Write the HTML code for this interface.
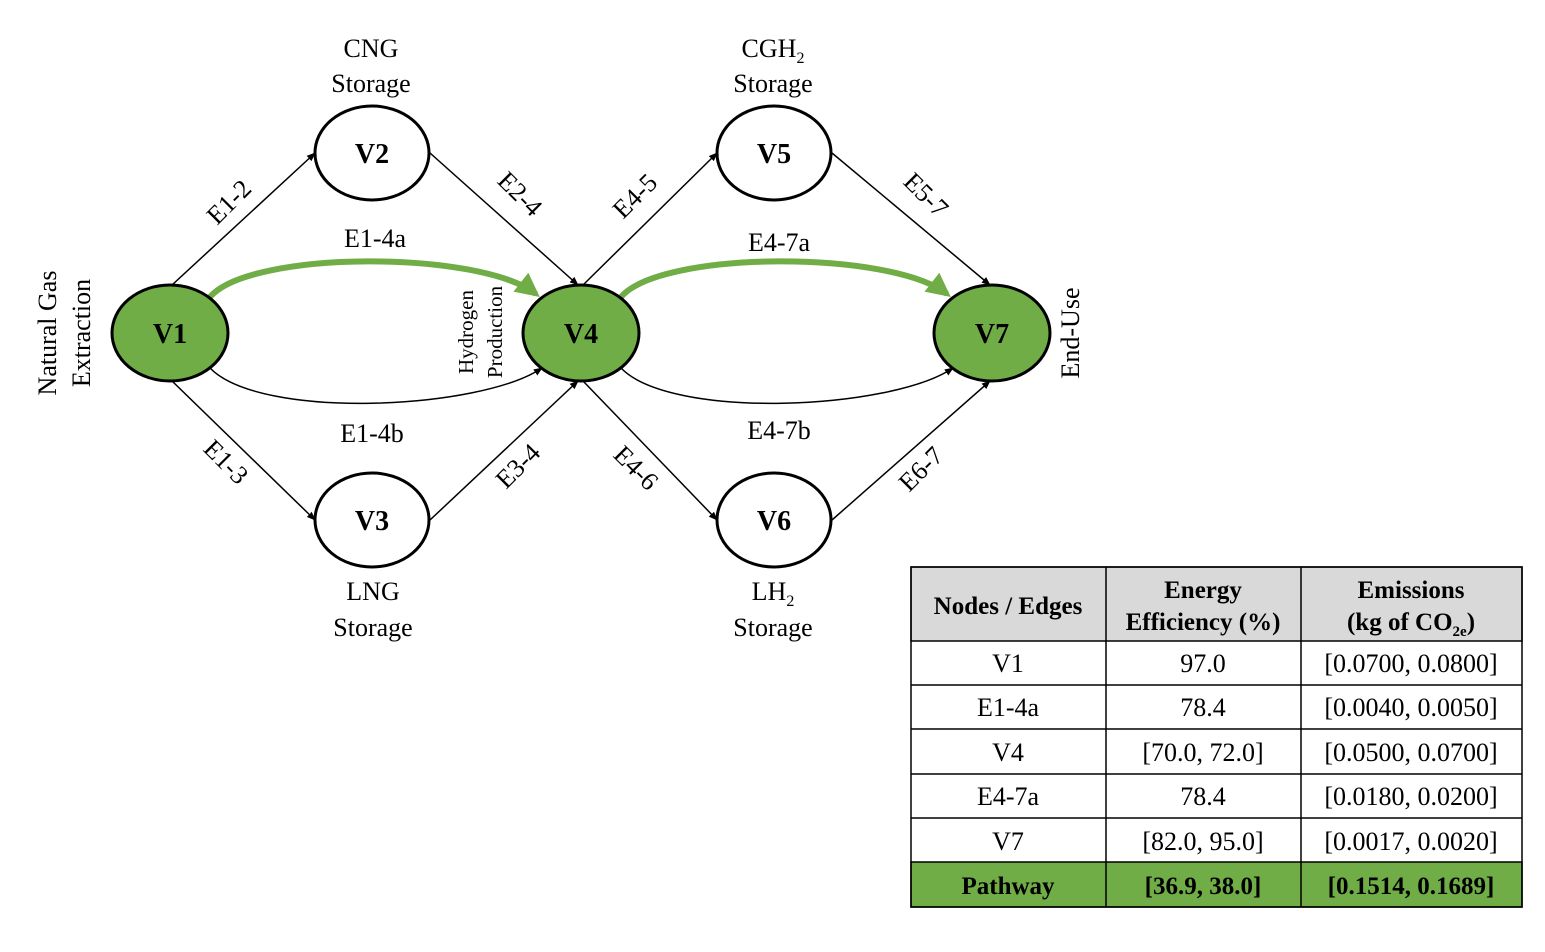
<!DOCTYPE html>
<html><head><meta charset="utf-8"><style>
html,body{margin:0;padding:0;background:#fff;}
svg, svg text{font-family:"Liberation Serif","Times New Roman","DejaVu Serif",serif;}
</style></head><body>
<svg width="1545" height="947" viewBox="0 0 1545 947" xmlns="http://www.w3.org/2000/svg" font-family="Liberation Serif, Times New Roman, DejaVu Serif, serif">
<defs>
<marker id="a" viewBox="0 0 10 10" refX="9" refY="5" markerWidth="6" markerHeight="6" orient="auto"><path d="M0,1 L10,5 L0,9 z" fill="#000"/></marker>
<marker id="g" viewBox="0 0 10 10" refX="8" refY="5" markerWidth="4" markerHeight="4" orient="auto"><path d="M0,0 L10,5 L0,10 z" fill="#70ad47"/></marker>
</defs>
<g stroke="#000" stroke-width="1.5" fill="none" marker-end="url(#a)">
<line x1="172" y1="285" x2="315" y2="153"/>
<line x1="430" y1="153" x2="578" y2="285"/>
<line x1="172" y1="381" x2="315" y2="520"/>
<line x1="430" y1="520" x2="578" y2="381"/>
<line x1="583" y1="285" x2="717" y2="153"/>
<line x1="832" y1="153" x2="990" y2="285"/>
<line x1="583" y1="381" x2="717" y2="520"/>
<line x1="832" y1="520" x2="990" y2="381"/>
<path d="M210,368 C260,420 480,410 542,368"/>
<path d="M621,368 C671,420 891,410 953,368"/>
</g>
<g stroke="#70ad47" stroke-width="6" fill="none" marker-end="url(#g)">
<path d="M210,297 C250,250 480,250 536,294"/>
<path d="M621,297 C661,250 891,250 947,294"/>
</g>
<g stroke="#000" stroke-width="3">
<ellipse cx="170" cy="333" rx="58" ry="48" fill="#70ad47"/>
<ellipse cx="581" cy="333" rx="58" ry="48" fill="#70ad47"/>
<ellipse cx="992" cy="333" rx="58" ry="48" fill="#70ad47"/>
<ellipse cx="372" cy="153" rx="57" ry="47" fill="#fff"/>
<ellipse cx="372" cy="520" rx="57" ry="47" fill="#fff"/>
<ellipse cx="774" cy="153" rx="57" ry="47" fill="#fff"/>
<ellipse cx="774" cy="520" rx="57" ry="47" fill="#fff"/>
</g>
<g font-weight="bold" font-size="28" text-anchor="middle">
<text x="170" y="343">V1</text><text x="581" y="343">V4</text><text x="992" y="343">V7</text>
<text x="372" y="163">V2</text><text x="372" y="530">V3</text><text x="774" y="163">V5</text><text x="774" y="530">V6</text>
</g>
<g font-size="26" text-anchor="middle">
<text x="371" y="57">CNG</text><text x="371" y="92">Storage</text>
<text x="773" y="57">CGH<tspan font-size="16" dy="6">2</tspan></text><text x="773" y="92">Storage</text>
<text x="373" y="600">LNG</text><text x="373" y="636">Storage</text>
<text x="773" y="600">LH<tspan font-size="16" dy="6">2</tspan></text><text x="773" y="636">Storage</text>
<text x="375" y="247">E1-4a</text><text x="372" y="442">E1-4b</text>
<text x="779" y="251">E4-7a</text><text x="779" y="439">E4-7b</text>
<text transform="translate(235,208) rotate(-45)">E1-2</text>
<text transform="translate(514,200) rotate(45)">E2-4</text>
<text transform="translate(220,468) rotate(45)">E1-3</text>
<text transform="translate(524,472) rotate(-45)">E3-4</text>
<text transform="translate(641,202) rotate(-45)">E4-5</text>
<text transform="translate(920,201) rotate(45)">E5-7</text>
<text transform="translate(630,474) rotate(45)">E4-6</text>
<text transform="translate(927,475) rotate(-45)">E6-7</text>
<text transform="translate(56,333) rotate(-90)">Natural Gas</text>
<text transform="translate(90,333) rotate(-90)">Extraction</text>
<text transform="translate(1079,333) rotate(-90)">End-Use</text>
</g>
<g font-size="21" text-anchor="middle">
<text transform="translate(473,332) rotate(-90)">Hydrogen</text>
<text transform="translate(502,332) rotate(-90)">Production</text>
</g>
<g stroke="#000" stroke-width="1.5">
<rect x="911" y="567" width="611" height="74" fill="#d9d9d9"/>
<rect x="911" y="862" width="611" height="45" fill="#70ad47"/>
<rect x="911" y="567" width="611" height="340" fill="none"/>
<line x1="1106" y1="567" x2="1106" y2="907"/><line x1="1301" y1="567" x2="1301" y2="907"/>
<line x1="911" y1="685" x2="1522" y2="685"/><line x1="911" y1="729" x2="1522" y2="729"/>
<line x1="911" y1="774" x2="1522" y2="774"/><line x1="911" y1="818" x2="1522" y2="818"/>
</g>
<g font-size="25" text-anchor="middle" font-weight="bold">
<text x="1008" y="614">Nodes / Edges</text>
<text x="1203" y="598">Energy</text><text x="1203" y="630">Efficiency (%)</text>
<text x="1411" y="598">Emissions</text><text x="1411" y="630">(kg of CO<tspan font-size="15" dy="6">2e</tspan><tspan dy="-6">)</tspan></text>
<text x="1008" y="894">Pathway</text><text x="1203" y="894">[36.9, 38.0]</text><text x="1411" y="894">[0.1514, 0.1689]</text>
</g>
<g font-size="26" text-anchor="middle">
<text x="1008" y="672">V1</text><text x="1203" y="672">97.0</text><text x="1411" y="672">[0.0700, 0.0800]</text>
<text x="1008" y="716">E1-4a</text><text x="1203" y="716">78.4</text><text x="1411" y="716">[0.0040, 0.0050]</text>
<text x="1008" y="761">V4</text><text x="1203" y="761">[70.0, 72.0]</text><text x="1411" y="761">[0.0500, 0.0700]</text>
<text x="1008" y="805">E4-7a</text><text x="1203" y="805">78.4</text><text x="1411" y="805">[0.0180, 0.0200]</text>
<text x="1008" y="850">V7</text><text x="1203" y="850">[82.0, 95.0]</text><text x="1411" y="850">[0.0017, 0.0020]</text>
</g>
</svg>
</body></html>
